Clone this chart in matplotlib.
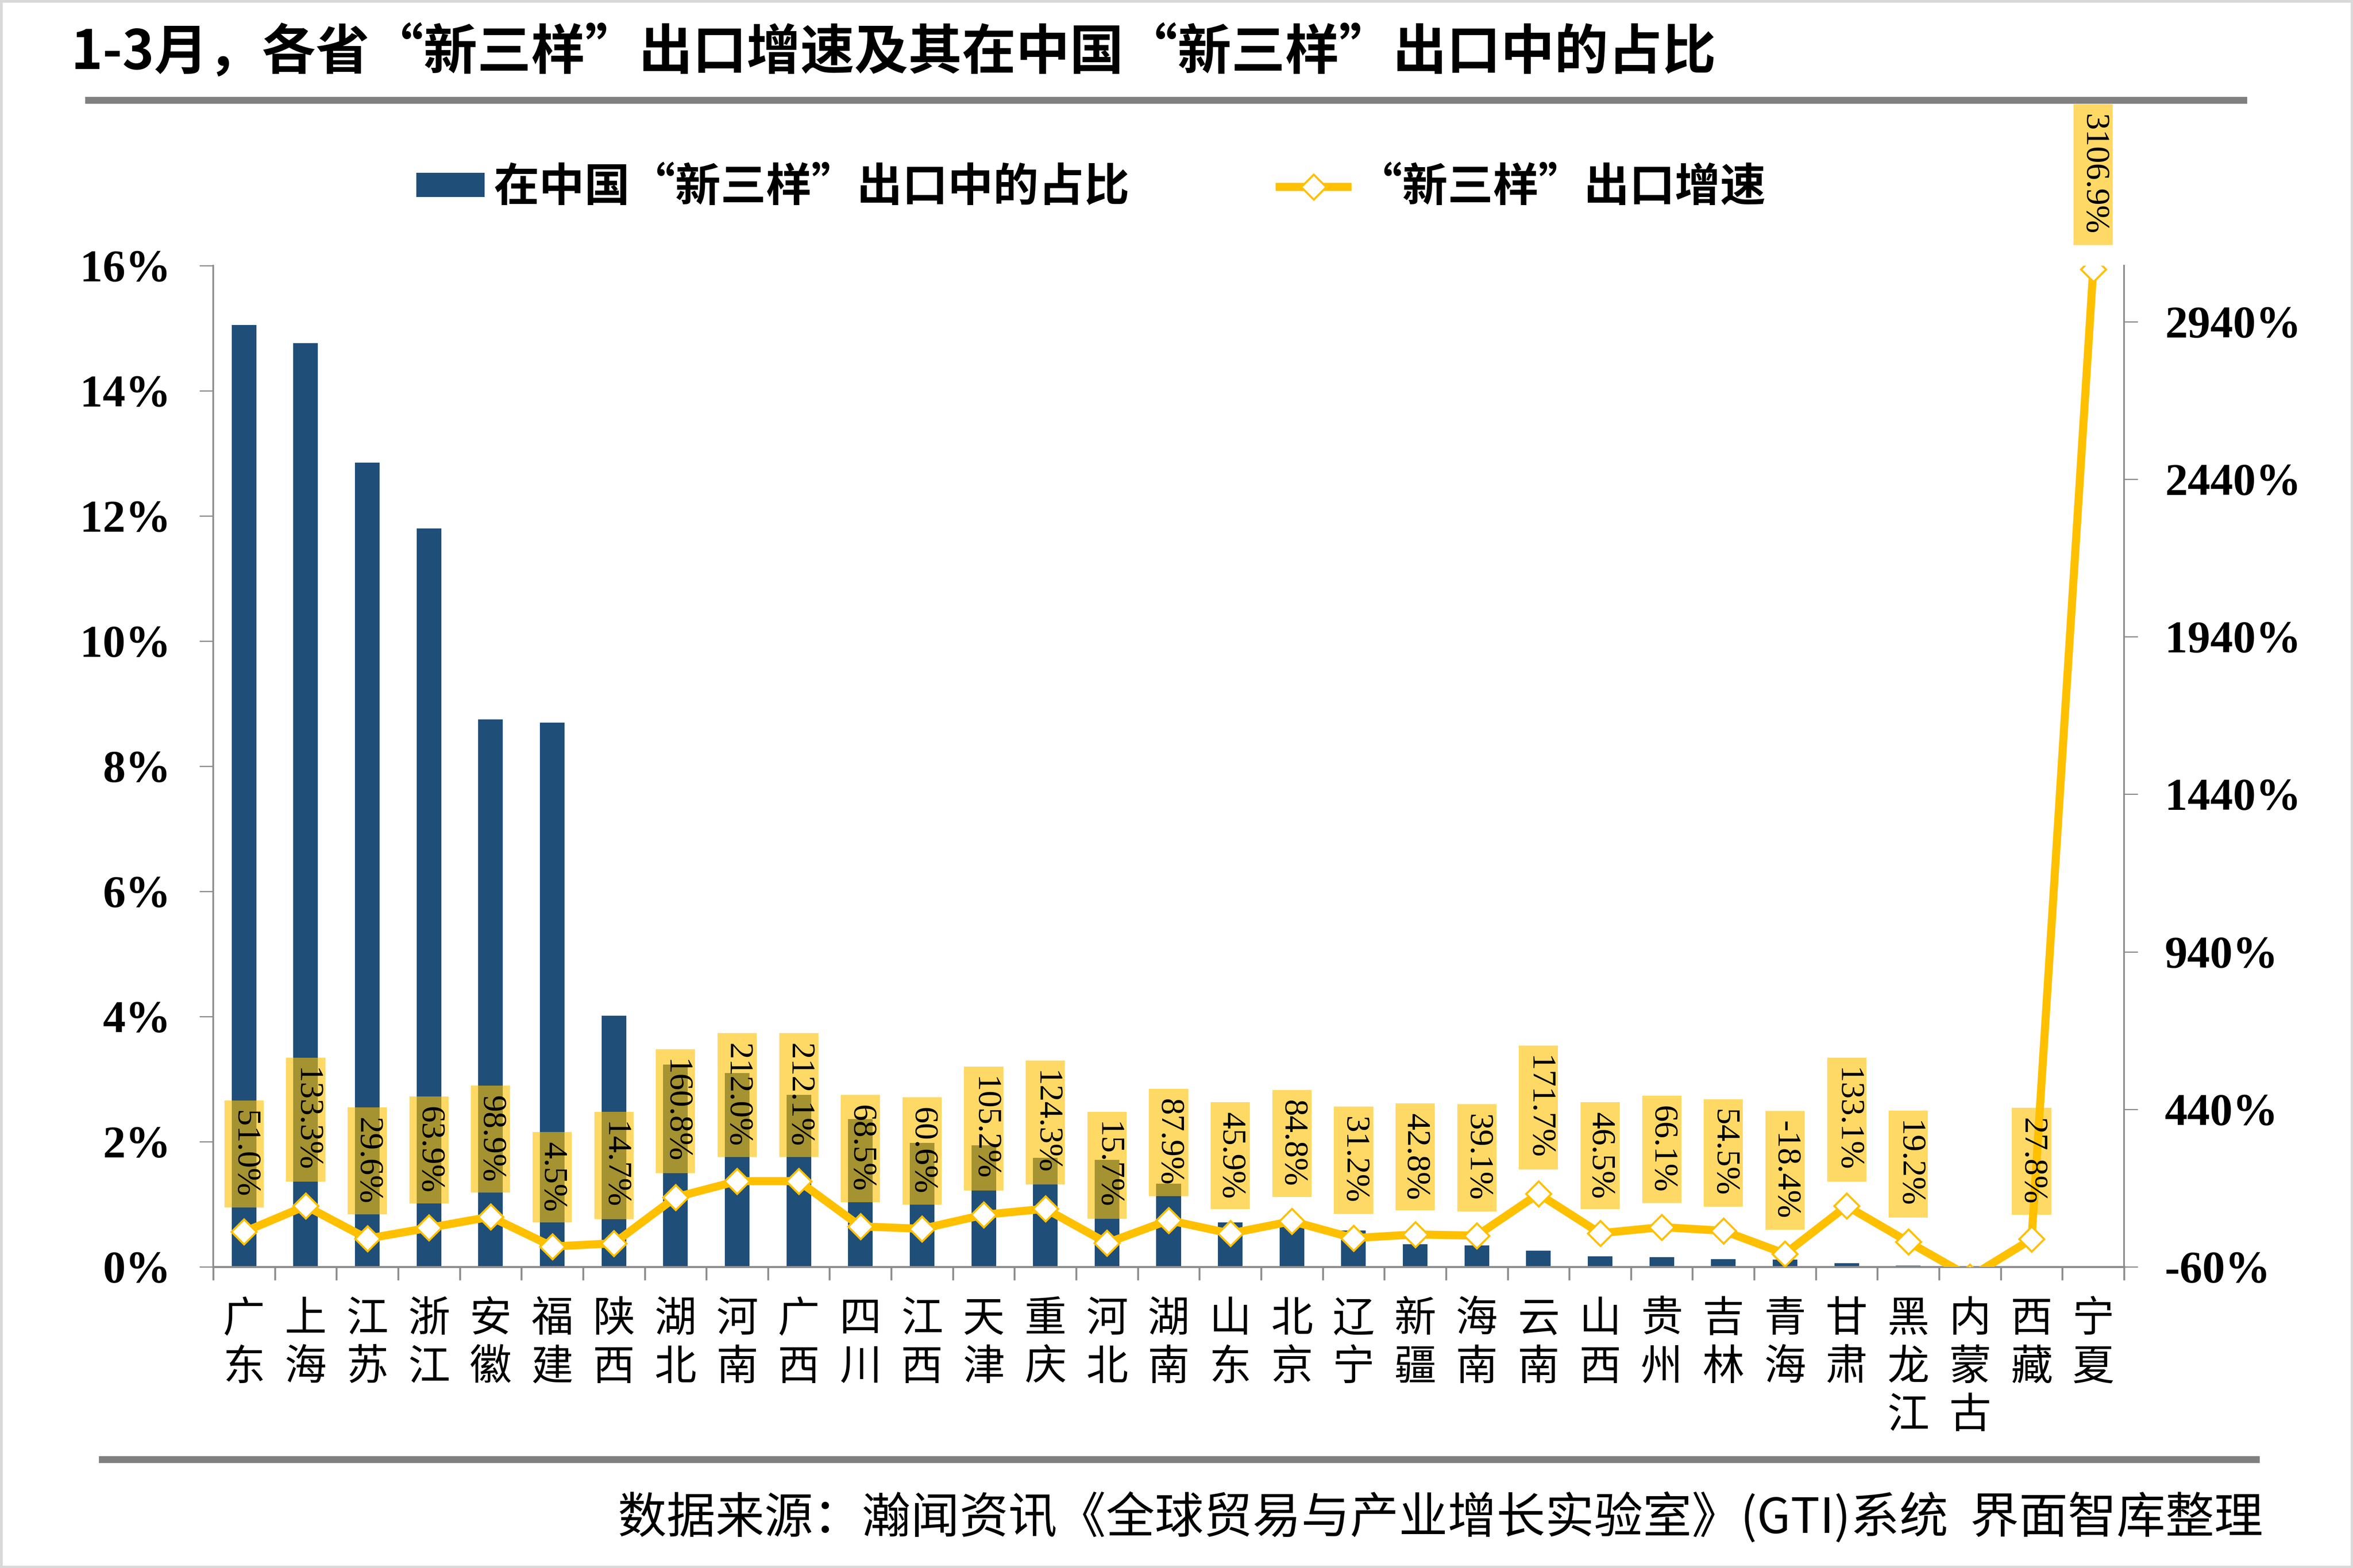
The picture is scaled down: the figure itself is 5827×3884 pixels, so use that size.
import matplotlib
matplotlib.use('Agg')
import matplotlib.pyplot as plt
from matplotlib.patches import Patch, Rectangle
from matplotlib.lines import Line2D
from matplotlib.path import Path
from matplotlib.font_manager import FontProperties
import numpy as np

# ---------------- data ----------------
provinces = ['广东', '上海', '江苏', '浙江', '安徽', '福建', '陕西', '湖北', '河南', '广西',
             '四川', '江西', '天津', '重庆', '河北', '湖南', '山东', '北京', '辽宁', '新疆',
             '海南', '云南', '山西', '贵州', '吉林', '青海', '甘肃', '黑龙江', '内蒙古', '西藏', '宁夏']
share = [15.05, 14.76, 12.85, 11.80, 8.75, 8.70, 4.01, 3.23, 3.10, 2.75,
         2.36, 1.98, 1.94, 1.74, 1.71, 1.33, 0.71, 0.67, 0.58, 0.36,
         0.345, 0.255, 0.17, 0.152, 0.125, 0.118, 0.055, 0.02, 0.005, 0.002, 0.002]
growth = [51.0, 133.3, 29.6, 63.9, 98.9, 4.5, 14.7, 160.8, 212.0, 212.1,
          68.5, 60.6, 105.2, 124.3, 15.7, 87.9, 45.9, 84.8, 31.2, 42.8,
          39.1, 171.7, 46.5, 66.1, 54.5, -18.4, 133.1, 19.2, -92.0, 27.8, 3106.9]
left_ticks = [0, 2, 4, 6, 8, 10, 12, 14, 16]
right_ticks = [-60, 440, 940, 1440, 1940, 2440, 2940]
left_lim = (0, 16)
right_lim = (-60, 3118)

title = '1-3月，各省“新三样”出口增速及其在中国“新三样”出口中的占比'
bar_name = '在中国“新三样”出口中的占比'
line_name = '“新三样”出口增速'
source = '数据来源：瀚闻资讯《全球贸易与产业增长实验室》(GTI)系统  界面智库整理'

# ---------------- style ----------------
BLUE = '#1F4E79'
GOLD = '#FFC000'
GRAY = '#8C8C8C'
CJK = ['Noto Sans CJK SC', 'DejaVu Sans']
SERIF = 'Liberation Serif'

W, H = 5827, 3884
DPI = 300
fig = plt.figure(figsize=(W / DPI, H / DPI), dpi=DPI)
fig.patch.set_facecolor('white')

ax_l, ax_r, ax_t, ax_b = 528, 5260, 658, 3138
ax = fig.add_axes([ax_l / W, 1 - ax_b / H, (ax_r - ax_l) / W, (ax_b - ax_t) / H])
ax.set_facecolor('none')
x = np.arange(len(provinces))

ax.bar(x, share, width=0.4, color=BLUE, zorder=2)
ax.set_xlim(-0.5, len(provinces) - 0.5)
ax.set_ylim(*left_lim)
ax.set_yticks(left_ticks)
ax.set_yticklabels([f'{v}%' for v in left_ticks], fontfamily=SERIF,
                   fontweight='bold', fontsize=27)
ax.tick_params(axis='y', direction='out', length=8.2, width=0.7, color=GRAY, pad=17)

ax.set_xticks(x)
ax.set_xticklabels(['\n'.join(p) for p in provinces], fontfamily=CJK,
                   fontsize=25, linespacing=1.15, va='top')
ax.set_xticks(np.arange(-0.5, len(provinces)), minor=True)
ax.tick_params(axis='x', which='major', length=0, pad=18.5)
ax.tick_params(axis='x', which='minor', length=8, width=1.1, color=GRAY, direction='out')

for s in ['top', 'right']:
    ax.spines[s].set_visible(False)
ax.spines['left'].set_color(GRAY)
ax.spines['left'].set_linewidth(1.0)
ax.spines['bottom'].set_color(GRAY)
ax.spines['bottom'].set_linewidth(1.2)

ax2 = ax.twinx()
ax2.set_ylim(*right_lim)
ax2.set_yticks(right_ticks)
ax2.set_yticklabels([f'{v}%' for v in right_ticks], fontfamily=SERIF,
                    fontweight='bold', fontsize=27)
ax2.tick_params(axis='y', direction='out', length=8.2, width=0.7, color=GRAY, pad=16)
for s in ['top', 'left', 'bottom']:
    ax2.spines[s].set_visible(False)
ax2.spines['right'].set_color(GRAY)
ax2.spines['right'].set_linewidth(1.0)

ax2.plot(x, growth, color=GOLD, lw=4.8, marker='D', ms=10.5, mfc='white',
         mec=GOLD, mew=1.2, zorder=3)


def label_box(x0, y0, width, height, mutation_size):
    px = 0.30 * mutation_size
    py = 0.13 * mutation_size
    verts = [(x0 - px, y0 - py), (x0 + width + px, y0 - py),
             (x0 + width + px, y0 + height + py), (x0 - px, y0 + height + py),
             (x0 - px, y0 - py)]
    return Path(verts, closed=True)


for xi, g in zip(x, growth):
    ax2.annotate(f'{g:.1f}%', xy=(xi, g), xytext=(0, 20.4), textcoords='offset points',
                 rotation=-90, ha='center', va='bottom', fontsize=20, fontfamily=SERIF,
                 bbox=dict(boxstyle=label_box, facecolor=GOLD, alpha=0.6, edgecolor='none'),
                 zorder=4)

# ---------------- legend ----------------
handles = [Patch(facecolor=BLUE, edgecolor='none', label=bar_name),
           Line2D([], [], color=GOLD, lw=4.8, marker='D', ms=10.5, mfc='white',
                  mec=GOLD, mew=1.2, label=line_name)]
fig.legend(handles=handles, loc='center left', bbox_to_anchor=(975 / W, 1 - 465 / H),
           ncol=2, frameon=False, borderpad=0,
           prop=FontProperties(family=CJK, weight='bold', size=27),
           handlelength=1.5, handleheight=0.45, handletextpad=0.2, columnspacing=3.3)

# ---------------- title, rules, source ----------------
fig.text(175 / W, 1 - 132 / H, title, ha='left', va='center', fontsize=32,
         fontweight='bold', fontfamily=CJK)
fig.add_artist(Line2D([219 / W, 5556 / W], [1 - 248 / H] * 2, color='#808080', lw=4.1))
fig.add_artist(Line2D([253 / W, 5587 / W], [1 - 3615 / H] * 2, color='#808080', lw=4.1))
fig.text(5604 / W, 1 - 3762 / H, source, ha='right', va='center', fontsize=29,
         fontfamily=CJK)
fig.add_artist(Rectangle((0, 0), 1, 1, transform=fig.transFigure, fill=False,
                         edgecolor='#D9D9D9', lw=3))

fig.savefig('out.png', dpi=DPI)
